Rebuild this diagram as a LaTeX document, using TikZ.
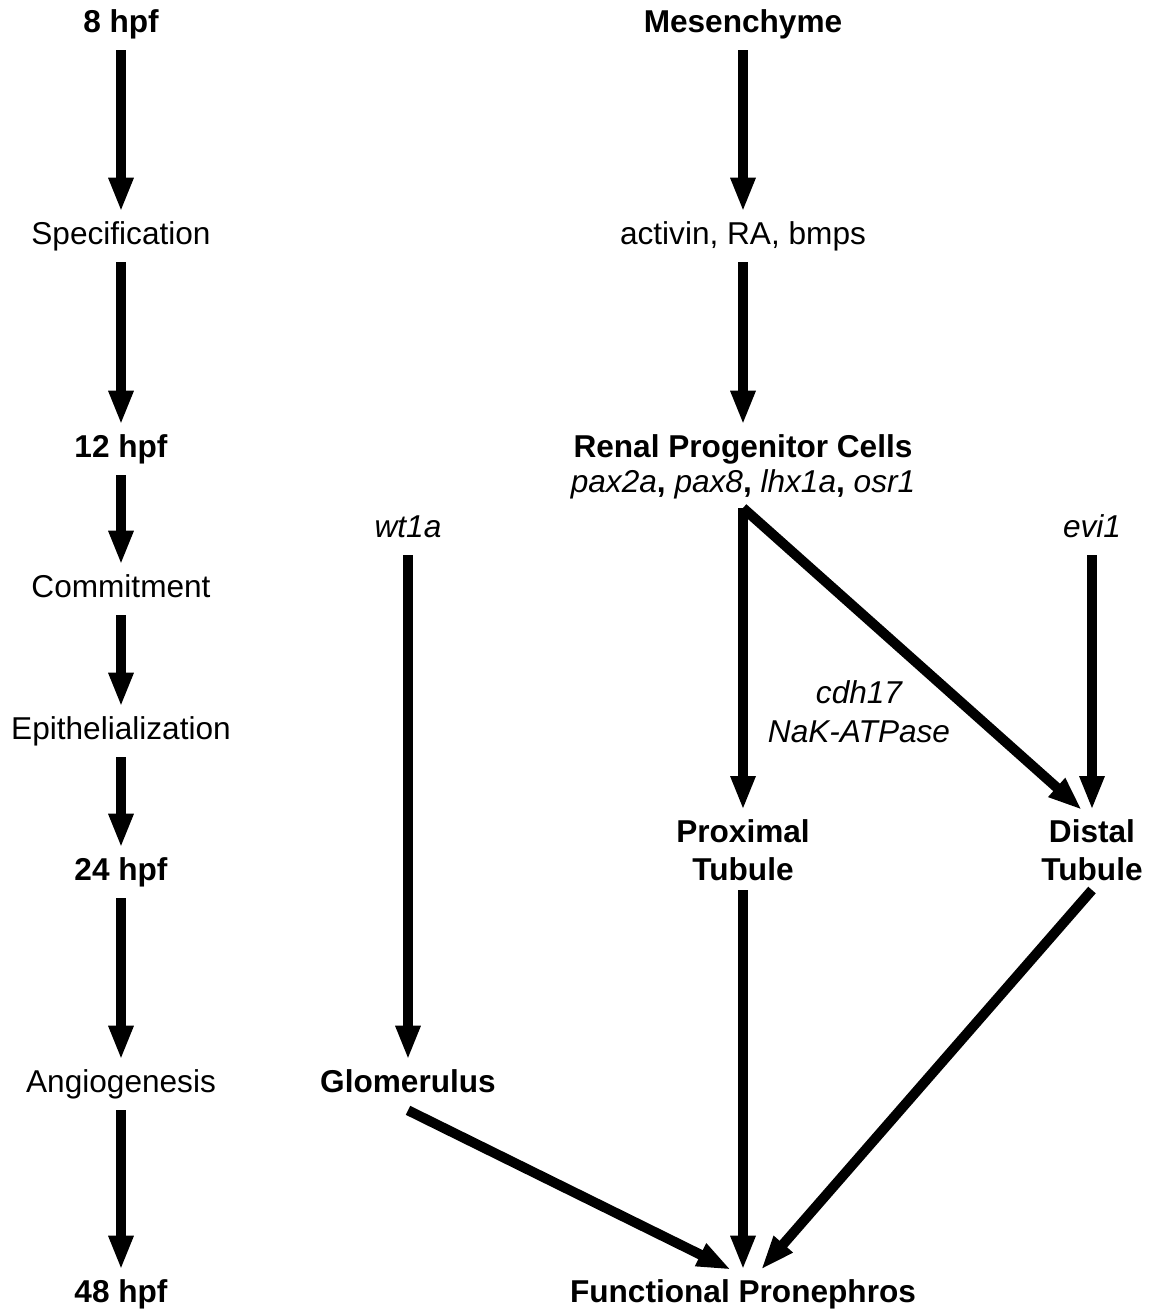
\documentclass[tikz,border=0pt]{standalone}
\usepackage{fontspec}
\setmainfont{Liberation Sans}
\usepackage{tikz}
\usetikzlibrary{arrows.meta}

\begin{document}
\begin{tikzpicture}[x=0.5pt, y=-0.5pt,
		txt/.style = {font=\fontsize{15.8}{19}\selectfont, inner sep=4.5pt, text height=11.9pt, text depth=4pt},
		hd/.style = {txt, font=\fontsize{15.8}{19}\selectfont\bfseries},
		gene/.style = {txt, font=\fontsize{15.8}{19}\selectfont\itshape},
		two/.style = {font=\fontsize{15.8}{19}\selectfont\bfseries, inner sep=4.5pt, align=center, anchor=north},
		arr/.style = {line width=5pt, -{Triangle[width=11.5pt, length=17pt]}}]
		\useasboundingbox (0,0) rectangle (1152,1314);
		
		\node[hd] (h8) at (121,25) {8 hpf};
		\node[txt] (spec) at (121,237) {Specification};
		\node[hd] (h12) at (121,450) {12 hpf};
		\node[txt] (com) at (121,590) {Commitment};
		\node[txt] (epi) at (121,732) {Epithelialization};
		\node[hd] (h24) at (121,873) {24 hpf};
		\node[txt] (ang) at (121,1085) {Angiogenesis};
		\node[hd] (h48) at (121,1295) {48 hpf};
		
		\node[hd] (mes) at (743,25) {Mesenchyme};
		\node[txt] (act) at (mes |- spec) {activin, RA, bmps};
		\node[two, font=\fontsize{15.8}{17.5}\selectfont\bfseries] (rpc) at (mes |- h12.north)
			{Renal Progenitor Cells\\ \textmd{\textit{pax2a}}, \textmd{\textit{pax8}}, \textmd{\textit{lhx1a}}, \textmd{\textit{osr1}}};
		\node[gene] (wt) at (408,530) {wt1a};
		\node[gene] (evi) at (1092,530) {evi1};
		\node[font=\fontsize{15.8}{19.5}\selectfont\itshape, align=center, inner sep=0pt] (cdh) at (859,712) {cdh17\\NaK-ATPase};
		\node[two] (pt) at (743,810) {Proximal\\Tubule};
		\node[two] (dt) at (pt.north -| evi) {Distal\\Tubule};
		\node[hd] (glom) at (wt |- ang) {Glomerulus};
		\node[hd] (fp) at (mes |- h48) {Functional Pronephros};
		
		\draw[arr] (h8) -- (spec);
		\draw[arr] (spec) -- (h12);
		\draw[arr] (h12) -- (com);
		\draw[arr] (com) -- (epi);
		\draw[arr] (epi) -- (h24);
		\draw[arr] (h24) -- (ang);
		\draw[arr] (ang) -- (h48);
		
		\draw[arr] (mes) -- (act);
		\draw[arr] (act) -- (rpc);
		\draw[arr] (rpc) -- (pt);
		\draw[arr] (rpc.south) -- ([xshift=-5pt]dt.north);
		\draw[arr] (evi) -- (dt);
		\draw[arr] (wt) -- (glom);
		\draw[arr] (glom.south) -- ([xshift=-6pt]fp.north);
		\draw[arr] (pt) -- (fp);
		\draw[arr] (dt.south) -- ([xshift=9pt]fp.north);
\end{tikzpicture}
\end{document}
